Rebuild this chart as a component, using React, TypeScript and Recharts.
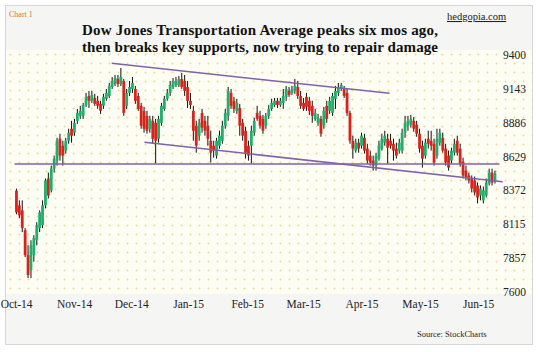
import { Bar, ComposedChart, ReferenceLine, XAxis, YAxis } from 'recharts';

/** Daily candles of the Dow Jones Transportation Average, Oct-14 .. Jun-15. */
const OPENS = [
  8370, 8258, 8220, 8069, 7880, 7766, 7880, 7993, 8085, 8107, 8258, 8462, 8371, 8537, 8598, 8764, 8711, 8674, 8749, 8840,
  8810, 8900, 8938, 8938, 9021, 9089, 9052, 9074, 9052, 9029, 9014, 9067, 9089, 9157, 9180, 9218, 9180, 9203, 9014, 9112,
  9142, 9142, 9089, 9014, 8976, 8938, 8840, 8900, 8885, 8764, 8885, 8991, 9067, 9112, 9157, 9172, 9172, 9218, 9203, 9157,
  9052, 8976, 8863, 8787, 8960, 8900, 8863, 8749, 8711, 8636, 8711, 8749, 8863, 8938, 9112, 9052, 8976, 8998, 8885, 8825,
  8711, 8711, 8810, 8960, 8938, 8915, 8863, 8938, 8991, 9021, 9052, 9021, 9036, 9082, 9127, 9112, 9127, 9157, 9089, 9036,
  9082, 9052, 9014, 8915, 8885, 8915, 8863, 9014, 8976, 8960, 9067, 9112, 9142, 9142, 9112, 8960, 8749, 8674, 8734, 8711,
  8771, 8689, 8636, 8598, 8560, 8613, 8689, 8734, 8764, 8749, 8726, 8689, 8674, 8674, 8810, 8863, 8870, 8900, 8870, 8802,
  8711, 8636, 8764, 8749, 8726, 8636, 8734, 8771, 8689, 8636, 8598, 8658, 8749, 8689, 8590, 8522, 8485, 8462, 8447, 8409,
  8333, 8296, 8333, 8424, 8507, 8447,
];
const HIGHS = [
  8385, 8296, 8296, 8085, 7955, 7993, 8031, 8130, 8220, 8296, 8462, 8507, 8560, 8636, 8771, 8802, 8749, 8771, 8840, 8900,
  8915, 8990, 9014, 9036, 9112, 9127, 9127, 9105, 9089, 9052, 9105, 9142, 9188, 9233, 9248, 9248, 9301, 9218, 9142, 9203,
  9233, 9165, 9112, 9036, 9006, 8976, 8938, 8938, 8915, 8938, 9036, 9089, 9142, 9203, 9225, 9233, 9241, 9263, 9248, 9203,
  9112, 9014, 8900, 8915, 8991, 8938, 8938, 8825, 8749, 8771, 8825, 8900, 8991, 9157, 9142, 9082, 9067, 9029, 8915, 8855,
  8749, 8863, 8923, 9014, 8976, 8945, 8960, 9021, 9067, 9074, 9074, 9074, 9142, 9165, 9157, 9165, 9218, 9203, 9127, 9074,
  9112, 9082, 9052, 8991, 8953, 8938, 9006, 9052, 9082, 9112, 9165, 9188, 9188, 9165, 9142, 8976, 8787, 8764, 8764, 8810,
  8802, 8726, 8674, 8636, 8658, 8749, 8802, 8825, 8802, 8802, 8764, 8734, 8764, 8840, 8938, 8938, 8945, 8930, 8900, 8840,
  8749, 8764, 8825, 8825, 8764, 8840, 8840, 8810, 8726, 8674, 8696, 8764, 8787, 8726, 8620, 8560, 8507, 8485, 8477, 8432,
  8409, 8401, 8462, 8537, 8537, 8522,
];
const LOWS = [
  8190, 8160, 8055, 7865, 7706, 7706, 7830, 7955, 8055, 8085, 8235, 8310, 8356, 8507, 8560, 8598, 8560, 8651, 8726, 8734,
  8787, 8877, 8915, 8915, 9006, 8998, 9036, 9014, 8991, 8953, 8991, 9052, 9074, 9142, 9165, 9157, 9165, 8938, 8991, 9089,
  9112, 9029, 8976, 8840, 8810, 8802, 8810, 8726, 8575, 8734, 8863, 8976, 9052, 9089, 9142, 9157, 9157, 9142, 9089, 8998,
  8991, 8749, 8658, 8749, 8810, 8787, 8711, 8583, 8620, 8613, 8689, 8726, 8840, 8900, 8991, 8960, 8953, 8787, 8749, 8613,
  8598, 8575, 8787, 8900, 8840, 8802, 8840, 8915, 8976, 9006, 8998, 9006, 8991, 9052, 9082, 9097, 9105, 9067, 8991, 8976,
  8976, 8945, 8885, 8900, 8863, 8779, 8840, 8885, 8953, 8938, 8991, 9089, 9127, 9074, 8938, 8726, 8613, 8658, 8658, 8689,
  8651, 8575, 8560, 8522, 8522, 8598, 8674, 8711, 8575, 8689, 8598, 8613, 8651, 8651, 8771, 8825, 8848, 8817, 8779, 8658,
  8545, 8613, 8689, 8674, 8560, 8613, 8711, 8658, 8560, 8522, 8575, 8636, 8636, 8552, 8462, 8447, 8424, 8356, 8333, 8273,
  8296, 8273, 8318, 8409, 8409, 8424,
];
const CLOSES = [
  8205, 8182, 8085, 7880, 7729, 7955, 8010, 8107, 8205, 8258, 8447, 8333, 8537, 8613, 8749, 8636, 8636, 8749, 8810, 8787,
  8885, 8960, 8976, 9021, 9082, 9052, 9097, 9029, 9014, 8976, 9082, 9112, 9165, 9203, 9225, 9180, 9233, 8960, 9112, 9157,
  9188, 9052, 8991, 8863, 8840, 8825, 8915, 8764, 8749, 8915, 9014, 9067, 9112, 9172, 9203, 9203, 9218, 9157, 9127, 9052,
  9021, 8825, 8711, 8885, 8848, 8825, 8764, 8658, 8674, 8749, 8787, 8863, 8960, 9127, 9014, 8991, 9036, 8863, 8787, 8658,
  8636, 8825, 8900, 8915, 8863, 8825, 8938, 8991, 9036, 9052, 9021, 9052, 9089, 9142, 9097, 9142, 9165, 9089, 9014, 8991,
  9006, 8976, 8938, 8960, 8923, 8802, 8976, 8915, 9052, 9089, 9127, 9157, 9172, 9089, 8960, 8749, 8689, 8734, 8689, 8787,
  8674, 8598, 8583, 8560, 8636, 8711, 8764, 8787, 8696, 8711, 8674, 8636, 8734, 8810, 8885, 8900, 8915, 8840, 8802, 8689,
  8613, 8734, 8726, 8711, 8583, 8764, 8810, 8674, 8583, 8545, 8674, 8726, 8658, 8575, 8485, 8469, 8447, 8386, 8356, 8318,
  8386, 8371, 8432, 8507, 8432, 8500,
];

/** Month labels sit on these trading-day positions. */
const MONTH_TICKS = [0, 20, 39.7, 59.3, 79.7, 99, 119.1, 139.3, 159.3];
const MONTH_LABELS = ['Oct-14', 'Nov-14', 'Dec-14', 'Jan-15', 'Feb-15', 'Mar-15', 'Apr-15', 'May-15', 'Jun-15'];
const Y_TICKS = [7600, 7857, 8115, 8372, 8629, 8886, 9143, 9400];

/** Drawn-in support / channel lines: [day, level]. */
const SUPPORT = [
  [-0.7, 8572],
  [166.5, 8572],
];
const UPPER_CHANNEL = [
  [32.8, 9337],
  [128.6, 9109],
];
const LOWER_CHANNEL = [
  [44.1, 8737],
  [167.6, 8437],
];

const UP = '#1fae6c';
const DOWN = '#d6241c';
const TREND = '#8062a8';
const SERIF = '"Liberation Serif", "Times New Roman", serif';

const rows = OPENS.map((open, i) => ({
  idx: i,
  open,
  high: HIGHS[i],
  low: LOWS[i],
  close: CLOSES[i],
  range: [LOWS[i], HIGHS[i]],
}));

function Candle(props: any) {
  const { x, y, width, height, payload } = props;
  if (!payload) return null;
  const top = Math.min(y, y + height);
  const bottom = Math.max(y, y + height);
  const span = payload.high - payload.low || 1;
  const at = (v: number) => top + ((payload.high - v) / span) * (bottom - top);
  const cx = x + width / 2;
  const yo = at(payload.open);
  const yc = at(payload.close);
  const up = payload.close >= payload.open;
  const bw = 2.8;
  return (
    <g>
      <line x1={cx} x2={cx} y1={top} y2={bottom} stroke="#111" strokeWidth={1} />
      <rect
        x={cx - bw / 2}
        y={Math.min(yo, yc)}
        width={bw}
        height={Math.max(1, Math.abs(yc - yo))}
        fill={up ? UP : DOWN}
      />
    </g>
  );
}

function MonthTick(props: any) {
  const { x, y, payload } = props;
  const i = MONTH_TICKS.indexOf(payload.value);
  return (
    <text x={x} y={y} dy="0.71em" textAnchor="middle" fill="#222" fontSize={11.5} fontFamily={SERIF}>
      {MONTH_LABELS[i] ?? ''}
    </text>
  );
}

const seg = (pts: number[][]) => pts.map(([x, y]) => ({ x, y }));

export default function App() {
  return (
    <div style={{ position: 'absolute', left: 0, top: 0, width: 538, height: 352, background: '#fff' }}>
      <div
        style={{
          position: 'absolute',
          left: 5,
          top: 5,
          width: 526,
          height: 338,
          border: '1px solid #d6d6d6',
          background: '#f5f5f3',
          overflow: 'hidden',
        }}
      >
        <div
          style={{
            position: 'absolute',
            left: 0,
            top: 44,
            width: 526,
            height: 244,
            backgroundColor: '#fefdf4',
            backgroundImage: 'radial-gradient(#e6de9f 0.9px, transparent 1.1px)',
            backgroundSize: '9px 9px',
          }}
        />
      </div>
      <div style={{ position: 'absolute', left: 0, top: 0 }}>
        <ComposedChart
          width={538}
          height={352}
          data={rows}
          margin={{ top: 55, right: 0, left: 5, bottom: 0 }}
        >
          <XAxis
            dataKey="idx"
            type="number"
            domain={[-4, 166]}
            allowDataOverflow
            ticks={MONTH_TICKS}
            height={60}
            axisLine={false}
            tickLine={false}
            interval={0}
            tick={<MonthTick />}
          />
          <YAxis
            orientation="right"
            domain={[7600, 9400]}
            ticks={Y_TICKS}
            width={40}
            axisLine={false}
            tickLine={false}
            tickSize={2}
            tickMargin={3}
            interval={0}
            tick={{ fill: '#222', fontSize: 11.5, fontFamily: SERIF, textAnchor: 'start' }}
          />
          <Bar dataKey="range" barSize={3} shape={Candle} isAnimationActive={false} />
          <ReferenceLine segment={seg(SUPPORT)} stroke={TREND} strokeWidth={1.5} ifOverflow="visible" />
          <ReferenceLine segment={seg(UPPER_CHANNEL)} stroke={TREND} strokeWidth={1.5} ifOverflow="visible" />
          <ReferenceLine segment={seg(LOWER_CHANNEL)} stroke={TREND} strokeWidth={1.5} ifOverflow="visible" />
        </ComposedChart>
      </div>
      <svg width={538} height={352} style={{ position: 'absolute', left: 0, top: 0, pointerEvents: 'none' }}>
        <text x={9} y={17} fontSize={8} fill="#e0703c" fontFamily={SERIF}>
          Chart 1
        </text>
        <text x={447} y={20} fontSize={10.5} fill="#222" fontFamily={SERIF} textDecoration="underline">
          hedgopia.com
        </text>
        <text
          x={82}
          y={35}
          fontSize={15}
          fontWeight="bold"
          fill="#111"
          fontFamily={SERIF}
          textLength={356}
          lengthAdjust="spacing"
        >
          Dow Jones Transportation  Average peaks six mos ago,
        </text>
        <text
          x={82}
          y={52}
          fontSize={15}
          fontWeight="bold"
          fill="#111"
          fontFamily={SERIF}
          textLength={356}
          lengthAdjust="spacing"
        >
          then breaks key supports, now trying to repair damage
        </text>
        <text x={417} y={337} fontSize={8.5} fill="#222" fontFamily={SERIF}>
          Source: StockCharts
        </text>
      </svg>
    </div>
  );
}
